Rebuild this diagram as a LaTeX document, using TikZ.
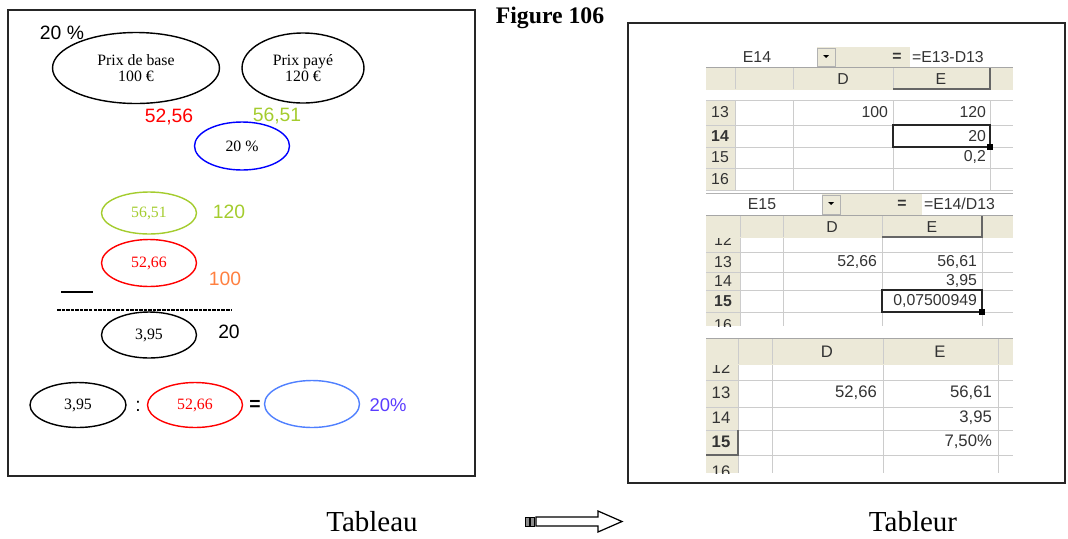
\documentclass[tikz,border=0pt]{standalone}
\usepackage{fontspec}
\setmainfont{Liberation Serif}
\setsansfont{Liberation Sans}
\usetikzlibrary{shapes.geometric}
\definecolor{xlbeige}{HTML}{ECE9D8}
\definecolor{ygreen}{HTML}{A4CC2E}
\definecolor{orng}{HTML}{FF8040}
\definecolor{lblue}{HTML}{5080FF}
\definecolor{pctblue}{HTML}{5A3CFF}
\newcommand\xlfont{\sffamily\fontsize{9}{10}\selectfont}
\begin{document}
\begin{tikzpicture}[x=0.02cm, y=-0.02cm]
  \tikzset{
    oval/.style={ellipse, draw, line width=.8pt, inner sep=0pt, align=center,
      font=\fontsize{9}{9.5}\selectfont},
    num/.style={font=\sffamily\fontsize{11}{12}\selectfont, inner sep=0pt},
    cell/.style={font=\xlfont, text=black!80, inner sep=1pt},
    val/.style={cell, anchor=east},
    xlgrid/.style={draw=black!20, line width=.5pt},
    xlsel/.style={draw=black!85, line width=1.6pt},
    big/.style={font=\fontsize{16.5}{18}\selectfont}
  }
  \useasboundingbox (0,0) rectangle (1068,538);

  \draw[line width=1.2pt, black!85] (8,10) rectangle (475,476);
  \node[num] (pct) at (62,33) {20 \%};
  \node[oval, minimum width=3.34cm, minimum height=1.42cm] (base) at (136,68) {Prix de base\\100 €};
  \node[oval, minimum width=2.44cm, minimum height=1.4cm] (paye) at (303,68) {Prix payé\\120 €};
  \node[num, red] (v1) at (169,117) {52,56};
  \node[num, ygreen] (v2) at (277,116) {56,51};
  \node[oval, draw=blue, minimum width=1.9cm, minimum height=.96cm] (taux) at (242,146) {20 \%};

  \node[oval, draw=ygreen, text=ygreen, minimum width=1.9cm, minimum height=.84cm] (ht) at (149,213) {56,51};
  \node[num, ygreen] (t120) at (229,212) {120};
  \node[oval, draw=red, text=red, minimum width=1.9cm, minimum height=.94cm] (bas) at (149,263) {52,66};
  \node[num, orng] (t100) at (225,279) {100};
  \coordinate (m1) at (61,292);
  \coordinate (m2) at (93,292);
  \draw[line width=.8pt] (m1) -- (m2);
  \coordinate (d1) at (57,310);
  \coordinate (d2) at (232,310);
  \draw[line width=.6pt, dash pattern=on 2pt off .6pt] (d1) -- (d2);
  \node[oval, minimum width=1.9cm, minimum height=.92cm] (ecart) at (149,335) {3,95};
  \node[num] (t20) at (229,332) {20};

  \node[oval, minimum width=1.92cm, minimum height=.9cm] (q1) at (78,405) {3,95};
  \node[num] (dv) at (138,406) {:};
  \node[oval, draw=red, text=red, minimum width=1.9cm, minimum height=.9cm] (q2) at (195,405) {52,66};
  \node[num, font=\sffamily\bfseries\fontsize{11}{12}\selectfont] (eq) at (255,405) {=};
  \node[oval, draw=lblue, minimum width=1.9cm, minimum height=.94cm] (q3) at (312,404) {};
  \node[num, pctblue, font=\sffamily\fontsize{10.5}{12}\selectfont] (res) at (388,405) {20\%};

  \node[font=\bfseries\fontsize{13.5}{15}\selectfont] (fig) at (550,18) {Figure 106};

  \draw[line width=1.2pt, black!85] (628,23) rectangle (1065,483);

  % E14
  \fill[xlbeige] (706,47) rectangle (1013,90);
  \fill[white] (706,47) rectangle (817,67);
  \fill[white] (910,47) rectangle (1013,67);
  \filldraw[fill=xlbeige, draw=black!30] (817,48) rectangle (835,66);
  \fill (823,55) -- (829,55) -- (826,58) -- cycle;
  \node[cell] (n1) at (757,57) {E14};
  \node[cell, font=\xlfont\bfseries] (e1) at (897,57) {=};
  \node[cell, anchor=west] (f1) at (910,57) {=E13-D13};
  \draw[black!35] (706,67) -- (1013,67);
  \foreach \x in {735,793,893,990} \draw[black!20] (\x,68) -- (\x,89);
  \draw[black!60, line width=1pt] (893,89) -- (990,89) -- (990,68);
  \node[cell] (hd1) at (843,79) {D};
  \node[cell] (he1) at (941,79) {E};
  \fill[xlbeige] (706,100) rectangle (735,190);
  \foreach \y in {100,125,147,168,190} \draw[xlgrid] (706,\y) -- (1013,\y);
  \foreach \x in {735,793,893,990} \draw[xlgrid] (\x,100) -- (\x,190);
  \foreach \r/\y in {13/112,15/157,16/179} \node[cell] at (720,\y) {\r};
  \node[cell, font=\xlfont\bfseries] (r14) at (720,136) {14};
  \node[val] (a1) at (890,112) {100};
  \node[val] (a2) at (988,112) {120};
  \node[val] (a3) at (988,136) {20};
  \node[val] (a4) at (988,157) {0,2};
  \draw[xlsel] (893,125) rectangle (990,147);
  \fill (987,144) rectangle (993,150);

  % E15
  \fill[xlbeige] (706,193) rectangle (1013,238);
  \fill[white] (706,194) rectangle (822,215);
  \fill[white] (922,194) rectangle (1013,215);
  \filldraw[fill=xlbeige, draw=black!30] (822,195) rectangle (840,214);
  \fill (828,202) -- (834,202) -- (831,205) -- cycle;
  \draw[black!30] (706,193) -- (1013,193);
  \node[cell] (n2) at (762,204) {E15};
  \node[cell, font=\xlfont\bfseries] (e2) at (902,204) {=};
  \node[cell, anchor=west] (f2) at (922,204) {=E14/D13};
  \draw[black!35] (706,215) -- (1013,215);
  \foreach \x in {740,783,882,982} \draw[black!20] (\x,216) -- (\x,237);
  \draw[black!60, line width=1pt] (882,237) -- (982,237) -- (982,216);
  \node[cell] (hd2) at (832,227) {D};
  \node[cell] (he2) at (932,227) {E};
  \begin{scope}
    \clip (706,238) rectangle (1013,326);
    \fill[xlbeige] (706,238) rectangle (740,326);
    \foreach \y in {252,272,290,312} \draw[xlgrid] (706,\y) -- (1013,\y);
    \foreach \x in {740,783,882,982} \draw[xlgrid] (\x,238) -- (\x,326);
    \foreach \r/\y in {12/240,13/262,14/281,16/325} \node[cell] at (723,\y) {\r};
    \node[cell, font=\xlfont\bfseries] (r15) at (723,301) {15};
  \end{scope}
  \node[val] (b1) at (879,262) {52,66};
  \node[val] (b2) at (979,262) {56,61};
  \node[val] (b3) at (979,281) {3,95};
  \node[val] (b4) at (979,301) {0,07500949};
  \draw[xlsel] (882,290) rectangle (982,312);
  \fill (979,309) rectangle (985,315);

  % pourcentage
  \fill[xlbeige] (706,338) rectangle (1013,365);
  \draw[black!35] (706,338) -- (1013,338);
  \foreach \x in {738,772,883,998} \draw[black!20] (\x,339) -- (\x,364);
  \node[cell, font=\sffamily\fontsize{9.5}{10}\selectfont] (hd3) at (827,352) {D};
  \node[cell, font=\sffamily\fontsize{9.5}{10}\selectfont] (he3) at (940,352) {E};
  \begin{scope}
    \clip (706,365) rectangle (1013,473);
    \fill[xlbeige] (706,365) rectangle (738,473);
    \foreach \y in {380,407,430,455} \draw[xlgrid] (706,\y) -- (1013,\y);
    \foreach \x in {738,772,883,998} \draw[xlgrid] (\x,365) -- (\x,473);
    \foreach \r/\y in {12/368,13/393,14/418,16/472} \node[cell, font=\sffamily\fontsize{9.5}{10}\selectfont] at (721,\y) {\r};
    \node[cell, font=\sffamily\bfseries\fontsize{9.5}{10}\selectfont] (r15b) at (721,442) {15};
  \end{scope}
  \draw[black!60, line width=1pt] (706,455) -- (738,455) -- (738,430);
  \node[val, font=\sffamily\fontsize{9.5}{10}\selectfont] (c1) at (879,393) {52,66};
  \node[val, font=\sffamily\fontsize{9.5}{10}\selectfont] (c2) at (994,393) {56,61};
  \node[val, font=\sffamily\fontsize{9.5}{10}\selectfont] (c3) at (994,418) {3,95};
  \node[val, font=\sffamily\fontsize{9.5}{10}\selectfont] (c4) at (994,442) {7,50\%};

  \node[big] (tab) at (372,522) {Tableau};
  \node[big] (tabr) at (913,522) {Tableur};
  \filldraw[fill=black!45, line width=.5pt] (525,517) rectangle (529,526) (530,517) rectangle (534,526);
  \draw[line width=.7pt] (536,517) -- (598,517) -- (598,511) -- (622,521.5) -- (598,532) -- (598,526) -- (536,526) -- cycle;
\end{tikzpicture}
\end{document}
